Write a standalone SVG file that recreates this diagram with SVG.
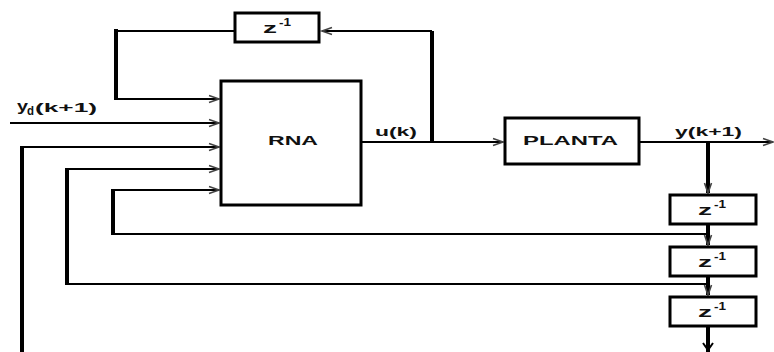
<svg xmlns="http://www.w3.org/2000/svg" width="774" height="352" viewBox="0 0 774 352">
<defs>
<style>
.box{fill:#fff;stroke:#000;stroke-width:3}
.h{fill:none;stroke:#000;stroke-width:2}
.v{fill:none;stroke:#000;stroke-width:4}
.t{font-family:"Liberation Sans",Arial,sans-serif;font-weight:bold;fill:#111}
.z{font-family:"Liberation Sans",Arial,sans-serif;font-weight:bold;fill:#111;font-size:15px}
.sup{font-family:"Liberation Sans",Arial,sans-serif;font-weight:bold;fill:#111;font-size:11px}
</style>
<marker id="ar" markerUnits="userSpaceOnUse" markerWidth="12" markerHeight="10" refX="10" refY="4" orient="auto" overflow="visible">
<path d="M0,0.5 L10,4 L0,7.5" fill="none" stroke="#444" stroke-width="1.6"/>
</marker>
</defs>
<rect width="774" height="352" fill="#fff"/>
<g id="connectors">
<line class="h" x1="362" y1="142" x2="503" y2="142" marker-end="url(#ar)"/>
<line class="v" x1="432" y1="142" x2="432" y2="31"/>
<line class="h" x1="432" y1="31" x2="322" y2="31" marker-end="url(#ar)"/>
<line class="h" x1="234" y1="31" x2="116" y2="31"/>
<line class="v" x1="116" y1="29" x2="116" y2="100"/>
<line class="h" x1="116" y1="99" x2="219" y2="99" marker-end="url(#ar)"/>
<line class="h" x1="10" y1="123" x2="219" y2="123" marker-end="url(#ar)"/>
<line class="h" x1="640" y1="142" x2="773" y2="142" marker-end="url(#ar)"/>
<line class="v" x1="708" y1="142" x2="708" y2="193" marker-end="url(#ar)"/>
<line class="v" x1="708" y1="225" x2="708" y2="245" marker-end="url(#ar)"/>
<line class="v" x1="708" y1="277" x2="708" y2="295" marker-end="url(#ar)"/>
<line class="v" x1="708" y1="327" x2="708" y2="352"/>
<path d="M703,343 L708,350 L713,343" fill="none" stroke="#000" stroke-width="2"/>
<line class="h" x1="708" y1="234" x2="113" y2="234"/>
<line class="v" x1="113" y1="235" x2="113" y2="189"/>
<line class="h" x1="113" y1="190" x2="219" y2="190" marker-end="url(#ar)"/>
<line class="h" x1="708" y1="284" x2="67" y2="284"/>
<line class="v" x1="67" y1="285" x2="67" y2="168"/>
<line class="h" x1="67" y1="169" x2="219" y2="169" marker-end="url(#ar)"/>
<line class="v" x1="22" y1="352" x2="22" y2="146"/>
<line class="h" x1="22" y1="147" x2="219" y2="147" marker-end="url(#ar)"/>
</g>
<g id="rna">
<rect class="box" x="221" y="81" width="140" height="124"/>
<text class="t" x="268" y="145" font-size="12" textLength="50" lengthAdjust="spacingAndGlyphs">RNA</text>
</g>
<g id="planta">
<rect class="box" x="505" y="118" width="134" height="46"/>
<text class="t" x="523" y="145" font-size="12" textLength="95" lengthAdjust="spacingAndGlyphs">PLANTA</text>
</g>
<g id="z_top">
<rect class="box" x="235" y="13" width="84" height="29"/>
<text class="z" x="263" y="33" textLength="14" lengthAdjust="spacingAndGlyphs">z</text>
<text class="sup" x="279" y="26" textLength="12" lengthAdjust="spacingAndGlyphs">-1</text>
</g>
<g id="z1">
<rect class="box" x="670" y="195" width="86" height="29"/>
<text class="z" x="698" y="215" textLength="14" lengthAdjust="spacingAndGlyphs">z</text>
<text class="sup" x="714" y="208" textLength="12" lengthAdjust="spacingAndGlyphs">-1</text>
</g>
<g id="z2">
<rect class="box" x="670" y="247" width="86" height="29"/>
<text class="z" x="698" y="267" textLength="14" lengthAdjust="spacingAndGlyphs">z</text>
<text class="sup" x="714" y="260" textLength="12" lengthAdjust="spacingAndGlyphs">-1</text>
</g>
<g id="z3">
<rect class="box" x="670" y="297" width="86" height="29"/>
<text class="z" x="698" y="317" textLength="14" lengthAdjust="spacingAndGlyphs">z</text>
<text class="sup" x="714" y="310" textLength="12" lengthAdjust="spacingAndGlyphs">-1</text>
</g>
<g id="labels">
<text class="t" x="17" y="111" font-size="15" textLength="11" lengthAdjust="spacingAndGlyphs">y</text>
<text class="t" x="27" y="115" font-size="13" textLength="7" lengthAdjust="spacingAndGlyphs">d</text>
<text class="t" x="35" y="112" font-size="12" textLength="62" lengthAdjust="spacingAndGlyphs">(k+1)</text>
<text class="t" x="375" y="136" font-size="12" textLength="42" lengthAdjust="spacingAndGlyphs">u(k)</text>
<text class="t" x="675" y="136" font-size="12" textLength="67" lengthAdjust="spacingAndGlyphs">y(k+1)</text>
</g>
</svg>
